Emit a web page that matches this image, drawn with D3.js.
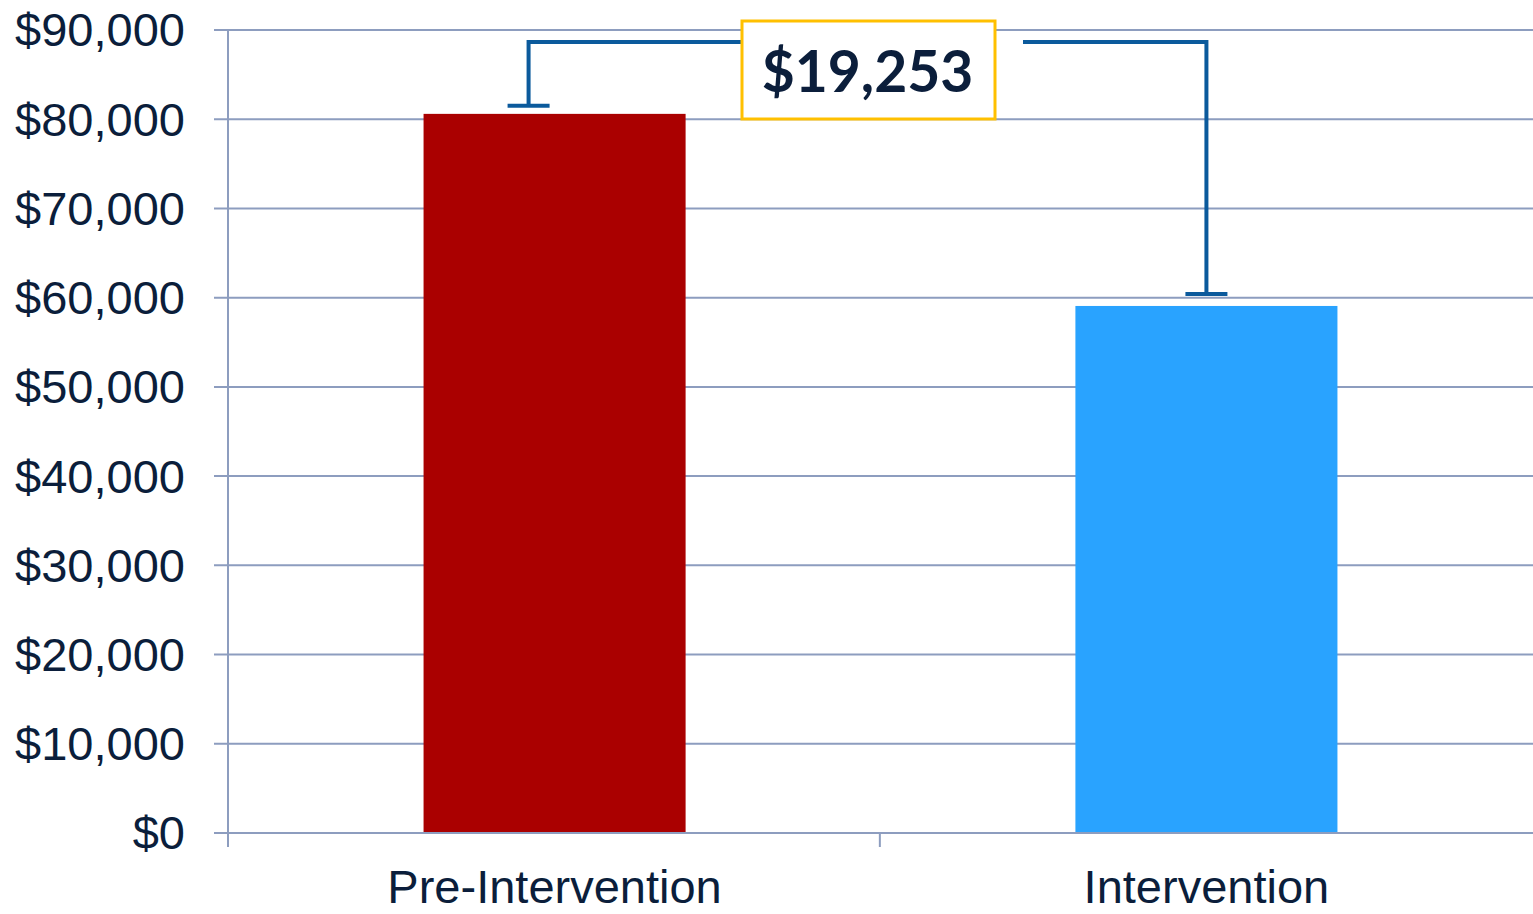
<!DOCTYPE html>
<html>
<head>
<meta charset="utf-8">
<script src="https://cdn.jsdelivr.net/npm/d3@7"></script>
<style>
html,body{margin:0;padding:0;background:#fff;}
svg{display:block;}
</style>
</head>
<body>
<svg id="chart" width="1533" height="914"></svg>
<script>
const categories = ["Pre-Intervention", "Intervention"];
const values = [80600, 59070];
const barColors = ["#aa0000", "#29a3ff"];
const yTicks = [0, 10000, 20000, 30000, 40000, 50000, 60000, 70000, 80000, 90000];
const differenceLabel = "$19,253";

(function () {
const svg = d3.select("#chart");
const pLeft = 228, pRight = 1533, pTop = 30, pBottom = 833;
const gridColor = "#8d9dbf";
const textColor = "#0b1e3b";

const x = d3.scaleBand().domain(categories).range([pLeft, pRight]).paddingInner(0.598).paddingOuter(0.3);
const y = d3.scaleLinear().domain([0, 90000]).range([pBottom, pTop]);

// gridlines
svg.append("g").selectAll("line").data(yTicks).join("line")
  .attr("x1", pLeft - 14).attr("x2", pRight)
  .attr("y1", d => y(d)).attr("y2", d => y(d))
  .attr("stroke", gridColor).attr("stroke-width", 2);

// y axis line
svg.append("line").attr("x1", pLeft).attr("x2", pLeft).attr("y1", pTop).attr("y2", pBottom + 14)
  .attr("stroke", gridColor).attr("stroke-width", 2);

// category separator tick
const step = x.step();
svg.append("line").attr("x1", pLeft + step).attr("x2", pLeft + step).attr("y1", pBottom).attr("y2", pBottom + 14)
  .attr("stroke", gridColor).attr("stroke-width", 2);

// y labels
const fmt = d3.format(",");
svg.append("g").selectAll("text").data(yTicks).join("text")
  .attr("x", 185).attr("y", d => y(d)).attr("dy", "0.35em")
  .attr("text-anchor", "end")
  .attr("font-family", "'Liberation Sans', Arial, sans-serif")
  .attr("font-size", 47).attr("fill", textColor)
  .text(d => "$" + fmt(d));

// bars
svg.append("g").selectAll("rect").data(values).join("rect")
  .attr("x", (d, i) => x(categories[i]))
  .attr("width", x.bandwidth())
  .attr("y", d => y(d))
  .attr("height", d => y(0) - y(d))
  .attr("fill", (d, i) => barColors[i]);

// baseline over bars
svg.append("line").attr("x1", pLeft - 14).attr("x2", pRight).attr("y1", y(0)).attr("y2", y(0))
  .attr("stroke", gridColor).attr("stroke-width", 2);

// category labels
svg.append("g").selectAll("text").data(categories).join("text")
  .attr("x", d => x(d) + x.bandwidth() / 2).attr("y", 903)
  .attr("text-anchor", "middle")
  .attr("font-family", "'Liberation Sans', Arial, sans-serif")
  .attr("font-size", 47).attr("fill", textColor)
  .text(d => d);

// bracket annotation
const bracketColor = "#0b5a9c";
const bracketTop = y(90000) + 12;
const boxL = 742, boxR = 995, boxT = 21, boxB = 119;
const c0 = x(categories[0]) + x.bandwidth() / 2 - 26;
const c1 = x(categories[1]) + x.bandwidth() / 2;
const cap0 = y(values[0]) - 8;
const cap1 = y(values[1]) - 12;

const g = svg.append("g").attr("fill", "none").attr("stroke", bracketColor).attr("stroke-width", 4);
g.append("path").attr("d", `M${c0},${cap0}V${bracketTop}H${boxL}`);
g.append("path").attr("d", `M${c0 - 21},${cap0}H${c0 + 21}`);
g.append("path").attr("d", `M${boxR + 28},${bracketTop}H${c1}V${cap1}`);
g.append("path").attr("d", `M${c1 - 21},${cap1}H${c1 + 21}`);

svg.append("rect").attr("x", boxL).attr("y", boxT).attr("width", boxR - boxL).attr("height", boxB - boxT)
  .attr("fill", "#fff").attr("stroke", "#ffc000").attr("stroke-width", 3);
svg.append("text").attr("x", (boxL + boxR) / 2 - 1).attr("y", 92)
  .attr("text-anchor", "middle")
  .attr("font-family", "Lato, 'Open Sans', sans-serif").attr("font-weight", "bold")
  .attr("font-size", 57).attr("fill", "#0b1e3b")
  .text(differenceLabel);
})();
</script>
</body>
</html>
